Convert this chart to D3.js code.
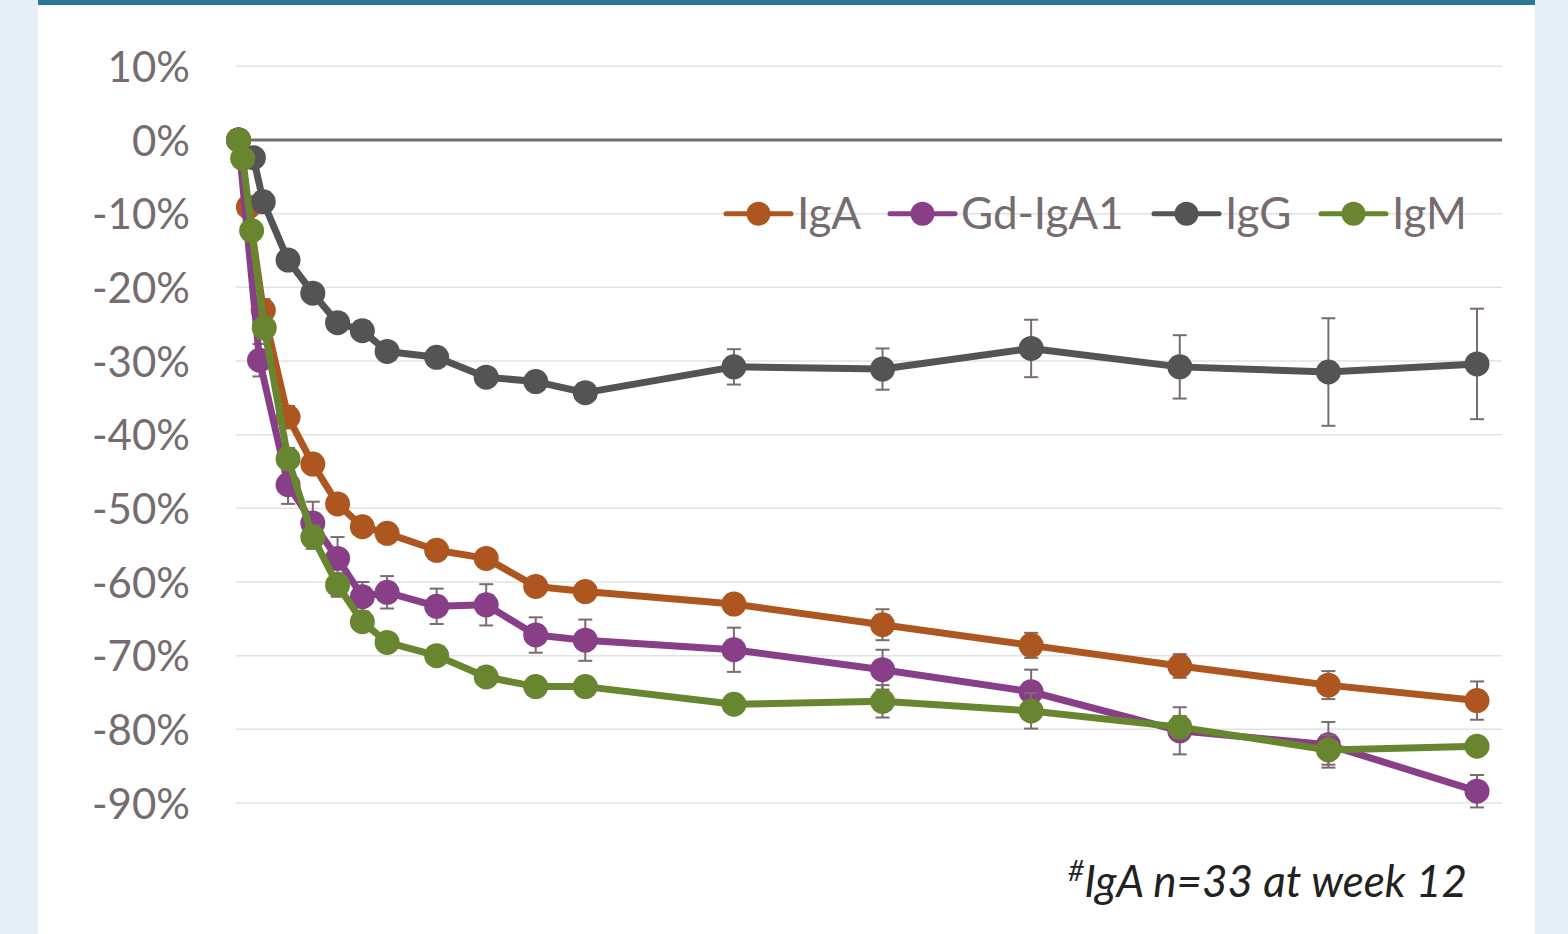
<!DOCTYPE html>
<html>
<head>
<meta charset="utf-8">
<script src="https://cdn.jsdelivr.net/npm/d3@7"></script>
<style>
  body { margin: 0; background: #e6eff7; }
  svg { display: block; }
</style>
</head>
<body>
<svg id="chart" width="1568" height="934"></svg>
<script>
// tick labels of the y axis (percent)
const yTicks = [10, 0, -10, -20, -30, -40, -50, -60, -70, -80, -90];

// series names and colours
const seriesNames = ["IgA", "Gd-IgA1", "IgG", "IgM"];
const seriesColors = ["#ad561f", "#883f88", "#545454", "#68862f"];

// time points (same unit for every series) and values
const igaT = [0, 0.4, 1, 2, 3, 4, 5, 6, 8, 10, 12, 14, 20, 26, 32, 38, 44, 50];
const igaV = [0, -9.1, -23.1, -37.6, -44.0, -49.4, -52.5, -53.4, -55.7, -56.8, -60.6, -61.3, -63.0, -65.8, -68.6, -71.4, -74.0, -76.1];
const igaE = [0, 1.0, 1.5, 1.5, 1.2, 1.2, 1.2, 1.0, 1.0, 1.2, 1.2, 1.0, 1.2, 2.1, 1.7, 1.6, 1.9, 2.6];

const gdT = [0, 0.85, 2, 3, 4, 5, 6, 8, 10, 12, 14, 20, 26, 32, 38, 44, 50];
const gdV = [0, -29.9, -46.8, -52.0, -56.8, -62.0, -61.4, -63.3, -63.1, -67.2, -67.9, -69.2, -71.9, -74.9, -80.2, -82.1, -88.4];
const gdE = [0, 2.2, 2.6, 2.9, 2.9, 2.0, 2.2, 2.4, 2.8, 2.4, 2.8, 3.0, 2.7, 3.0, 3.2, 3.1, 2.2];

const iggT = [0, 0.6, 1, 2, 3, 4, 5, 6, 8, 10, 12, 14, 20, 26, 32, 38, 44, 50];
const iggV = [0, -2.4, -8.4, -16.3, -20.8, -24.8, -25.9, -28.7, -29.5, -32.2, -32.8, -34.3, -30.8, -31.1, -28.3, -30.8, -31.5, -30.4];
const iggE = [0, 0.8, 0.8, 0.8, 0.8, 0.8, 0.8, 0.8, 0.8, 1.0, 1.0, 1.0, 2.4, 2.8, 3.9, 4.3, 7.3, 7.5];

const igmT = [0, 0.17, 0.53, 1.04, 2, 3, 4, 5, 6, 8, 10, 12, 14, 20, 26, 32, 38, 44, 50];
const igmV = [0, -2.5, -12.3, -25.5, -43.3, -53.9, -60.4, -65.4, -68.2, -70.0, -72.9, -74.2, -74.2, -76.6, -76.2, -77.5, -79.7, -82.8, -82.3];
const igmE = [0, 0.5, 1.0, 1.5, 1.5, 1.6, 1.6, 1.2, 1.0, 1.0, 1.0, 1.0, 1.0, 1.0, 2.2, 2.4, 1.5, 2.0, 0.8];

const footnote = "IgA n=33 at week 12";

// bundel alles per serie
const series = [
  { t: igaT, v: igaV, e: igaE },
  { t: gdT, v: gdV, e: gdE },
  { t: iggT, v: iggV, e: iggE },
  { t: igmT, v: igmV, e: igmE },
].map((s, i) => ({
  name: seriesNames[i],
  color: seriesColors[i],
  points: s.t.map((t, j) => ({ t: t, v: s.v[j], e: s.e[j] })),
}));

const svg = d3.select("#chart");
const labelColor = "#766b6e";

// witte paneel en balk bovenaan
svg.append("rect").attr("x", 38).attr("y", 0).attr("width", 1497).attr("height", 934).attr("fill", "#ffffff");
svg.append("rect").attr("x", 38).attr("y", 0).attr("width", 1497).attr("height", 5).attr("fill", "#2a7893");

const x = d3.scaleLinear().domain([0, 50]).range([238.5, 1477]);
const y = d3.scaleLinear().domain([-90, 10]).range([803, 66.3]);
const gridLeft = 236, gridRight = 1502;

// gridlijnen
svg.append("g")
  .selectAll("line")
  .data(yTicks.filter(d => d !== 0))
  .join("line")
  .attr("x1", gridLeft)
  .attr("x2", gridRight)
  .attr("y1", d => y(d))
  .attr("y2", d => y(d))
  .attr("stroke", "#e2e2e2")
  .attr("stroke-width", 1.5);

// y-as labels
const yAxis = svg.append("g")
  .attr("transform", "translate(" + (gridLeft - 46) + ",0)")
  .call(d3.axisLeft(y).tickValues(yTicks).tickSize(0).tickPadding(0).tickFormat(d => d + "%"));
yAxis.select(".domain").remove();
yAxis.selectAll("text")
  .attr("font-family", "Lato, sans-serif")
  .attr("font-size", 42)
  .attr("fill", labelColor)
  .attr("dy", "0.36em");

// nul-lijn
svg.append("line")
  .attr("x1", gridLeft)
  .attr("x2", gridRight)
  .attr("y1", y(0))
  .attr("y2", y(0))
  .attr("stroke", "#6f6f6f")
  .attr("stroke-width", 3);

const line = d3.line().x(d => x(d.t)).y(d => y(d.v));

series.forEach(s => {
  const g = svg.append("g");
  // foutbalken
  const eb = g.append("g")
    .selectAll("g")
    .data(s.points.filter(d => d.e > 0))
    .join("g")
    .attr("stroke", "#7a6b70")
    .attr("stroke-width", 2);
  eb.append("line")
    .attr("x1", d => x(d.t)).attr("x2", d => x(d.t))
    .attr("y1", d => y(d.v + d.e)).attr("y2", d => y(d.v - d.e));
  eb.append("line")
    .attr("x1", d => x(d.t) - 7).attr("x2", d => x(d.t) + 7)
    .attr("y1", d => y(d.v + d.e)).attr("y2", d => y(d.v + d.e));
  eb.append("line")
    .attr("x1", d => x(d.t) - 7).attr("x2", d => x(d.t) + 7)
    .attr("y1", d => y(d.v - d.e)).attr("y2", d => y(d.v - d.e));

  g.append("path")
    .datum(s.points)
    .attr("d", line)
    .attr("fill", "none")
    .attr("stroke", s.color)
    .attr("stroke-width", 7)
    .attr("stroke-linejoin", "round");

  g.append("g")
    .selectAll("circle")
    .data(s.points)
    .join("circle")
    .attr("cx", d => x(d.t))
    .attr("cy", d => y(d.v))
    .attr("r", 12.5)
    .attr("fill", s.color);
});

// legenda
const legendX = [726, 890, 1154, 1321];
const legend = svg.append("g")
  .selectAll("g")
  .data(series)
  .join("g")
  .attr("transform", (d, i) => "translate(" + legendX[i] + "," + y(-10) + ")");
legend.append("line")
  .attr("x1", 0).attr("x2", 65)
  .attr("stroke", d => d.color)
  .attr("stroke-width", 5)
  .attr("stroke-linecap", "round");
legend.append("circle")
  .attr("cx", 32.5).attr("r", 12)
  .attr("fill", d => d.color);
legend.append("text")
  .attr("x", 71)
  .attr("dy", "0.36em")
  .attr("font-family", "Lato, sans-serif")
  .attr("font-size", 44)
  .attr("fill", labelColor)
  .text(d => d.name);

// voetnoot
const note = svg.append("text")
  .attr("x", 1467)
  .attr("y", 897)
  .attr("text-anchor", "end")
  .attr("font-family", "Lato, sans-serif")
  .attr("font-style", "italic")
  .attr("font-size", 44)
  .attr("fill", "#222222");
note.append("tspan").attr("font-size", 28).attr("dy", -16).text("#");
note.append("tspan").attr("dy", 16).text(footnote);
</script>
</body>
</html>
